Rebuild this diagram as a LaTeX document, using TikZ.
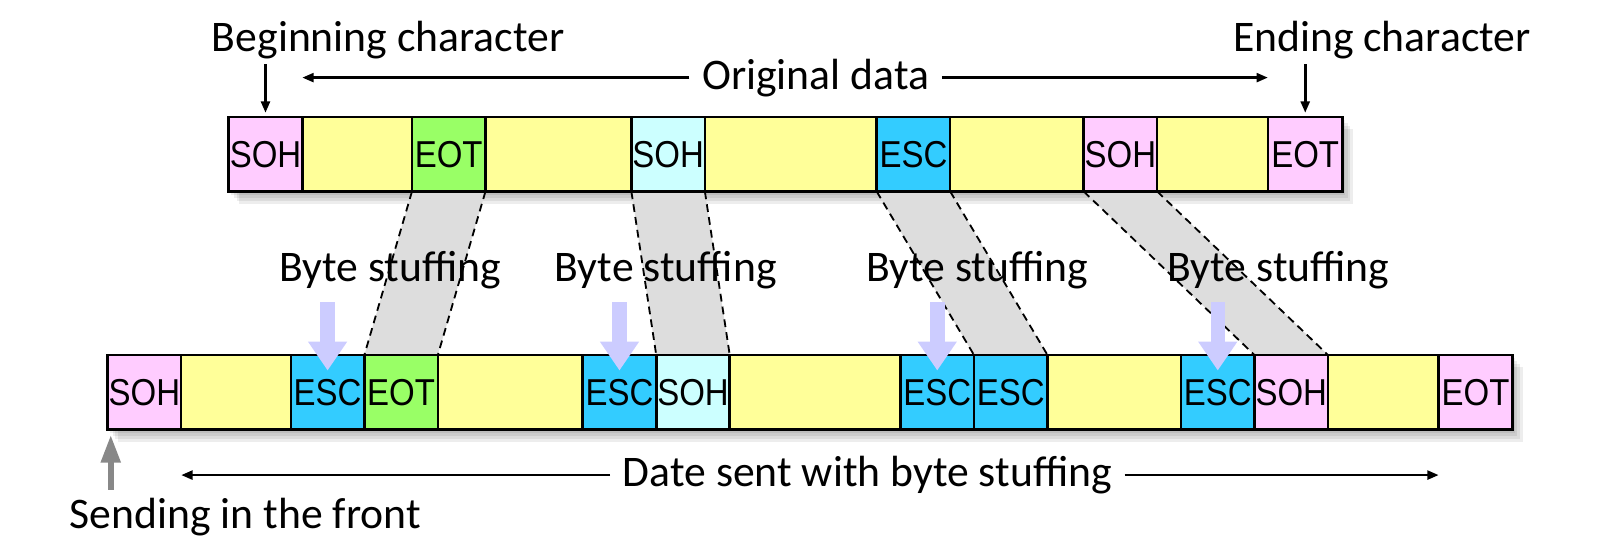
\documentclass[tikz,border=0pt]{standalone}
\usepackage{fontspec}
\setmainfont{Carlito}
\newfontfamily\cellfont[FakeStretch=0.88]{Liberation Sans}
\usetikzlibrary{arrows.meta,backgrounds}

\definecolor{sohpink}{HTML}{FFCCFF}
\definecolor{datayellow}{HTML}{FFFF99}
\definecolor{eotgreen}{HTML}{99FF66}
\definecolor{sohcyan}{HTML}{CCFFFF}
\definecolor{escblue}{HTML}{33CCFF}
\definecolor{bandgray}{HTML}{DDDDDD}
\definecolor{stuffviolet}{HTML}{CCCCFF}
\definecolor{frontgray}{HTML}{888888}

\tikzset{
  cell/.style={draw, line width=0.7pt, anchor=north west, minimum height=7.2mm,
    inner sep=0pt, outer sep=0pt, font=\cellfont\fontsize{10.3}{12}\selectfont},
  note/.style={anchor=base, font=\fontsize{12}{14}\selectfont},
  pointer/.style={-{Triangle[length=1.1mm,width=0.85mm]}, line width=0.75pt},
  bandedge/.style={dash pattern=on 0.75mm off 0.5mm, line width=0.5pt},
  stuffing/.style={draw=stuffviolet, line width=1.4mm, -{Triangle[length=2.8mm,width=3.6mm]}},
  front/.style={draw=frontgray, line width=0.6mm, -{Triangle[length=2.7mm,width=1.8mm]}},
}

\begin{document}
\begin{tikzpicture}[x=0.1mm,y=-0.1mm]
\useasboundingbox (0,0) rectangle (1568,525);

% original frame
\foreach \n/\x/\w/\c/\t in {t1/221/71/sohpink/SOH, t2/292/106/datayellow/{},
    t3/398/71/eotgreen/EOT, t4/469/141/datayellow/{}, t5/610/71/sohcyan/SOH,
    t6/681/166/datayellow/{}, t7/847/71/escblue/ESC, t8/918/129/datayellow/{},
    t9/1047/71/sohpink/SOH, t10/1118/107/datayellow/{}, t11/1225/72/sohpink/EOT}
  \node[cell, fill=\c, minimum width=\w*0.1mm] (\n) at (\x,113) {\t};

% stuffed frame
\foreach \n/\x/\w/\c/\t in {b1/104/71/sohpink/SOH, b2/175/106/datayellow/{},
    b3/281/71/escblue/ESC, b4/352/71/eotgreen/EOT, b5/423/140/datayellow/{},
    b6/563/71/escblue/ESC, b7/634/71/sohcyan/SOH, b8/705/165/datayellow/{},
    b9/870/71/escblue/ESC, b10/941/71/escblue/ESC, b11/1012/129/datayellow/{},
    b12/1141/71/escblue/ESC, b13/1212/71/sohpink/SOH, b14/1283/107/datayellow/{},
    b15/1390/71/sohpink/EOT}
  \node[cell, fill=\c, minimum width=\w*0.1mm] (\n) at (\x,343) {\t};

\begin{scope}[on background layer]
  % shadows under the frames
  \foreach \s in {1,...,4} {
    \fill[black, opacity=0.07] ([xshift=\s*0.25mm, yshift=-\s*0.3mm]t1.north west)
      rectangle ([xshift=\s*0.25mm, yshift=-\s*0.3mm]t11.south east);
    \fill[black, opacity=0.07] ([xshift=\s*0.25mm, yshift=-\s*0.3mm]b1.north west)
      rectangle ([xshift=\s*0.25mm, yshift=-\s*0.3mm]b15.south east);
  }
  % where the characters go
  \foreach \u/\l in {t3/b4, t5/b7, t7/b10, t9/b13} {
    \fill[bandgray] (\u.south west) -- (\u.south east) -- (\l.north east) -- (\l.north west) -- cycle;
    \draw[bandedge] (\u.south west) -- (\l.north west) (\u.south east) -- (\l.north east);
  }
\end{scope}

% labels above
\node[note] (begin) at (375,50) {Beginning character};
\node[note] (ending) at (1335,50) {Ending character};
\node[note] (orig) at (788,86) {Original data};
\draw[pointer] ([yshift=5.1mm]t1.north) -- ([yshift=0.4mm]t1.north);
\draw[pointer] ([yshift=5.1mm]t11.north) -- ([yshift=0.4mm]t11.north);
\draw[pointer] (orig.west) -- (orig.west -| t2.west);
\draw[pointer] (orig.east) -- (orig.east -| t11.west);

% byte stuffing
\foreach \n/\x in {bs1/377, bs2/643, bs3/944, bs4/1235}
  \node[note] (\n) at (\x,272) {Byte stuffing};
\foreach \c in {b3, b6, b9, b12}
  \draw[stuffing] ([yshift=5.1mm]\c.north) -- ([yshift=-1.5mm]\c.north);

% labels below
\node[note] (sent) at (838,470) {Date sent with byte stuffing};
\node[note] (sendfront) at (237,511) {Sending in the front};
\draw[pointer] (sent.west) -- (sent.west -| b2.west);
\draw[pointer] (sent.east) -- (sent.east -| b15.west);
\draw[front] ([xshift=0.3mm, yshift=-5.8mm]b1.south west) -- ([xshift=0.3mm, yshift=-0.5mm]b1.south west);
\end{tikzpicture}
\end{document}
